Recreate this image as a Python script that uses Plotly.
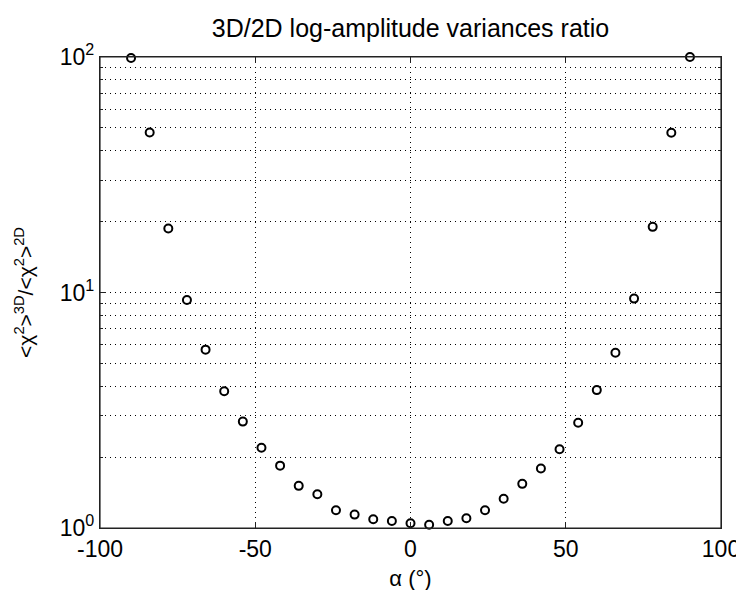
import plotly.graph_objects as go

# data
alpha_deg = [-90, -84, -78, -72, -66, -60, -54, -48, -42, -36, -30, -24, -18, -12, -6, 0,
             6, 12, 18, 24, 30, 36, 42, 48, 54, 60, 66, 72, 78, 84, 90]
ratio = [99.0, 47.8, 18.7, 9.3, 5.72, 3.81, 2.83, 2.19, 1.84, 1.51, 1.39, 1.19, 1.14, 1.09, 1.07, 1.047,
         1.033, 1.07, 1.10, 1.19, 1.33, 1.54, 1.79, 2.16, 2.80, 3.85, 5.55, 9.42, 19.0, 47.7, 100.0]

x_tickvals = [-100, -50, 0, 50, 100]
x_ticktext = ["-100", "-50", "0", "50", "100"]
y_tickvals = [1, 10, 100]
y_ticktext = ["10<sup>0</sup>", "10<sup>1</sup>", "10<sup>2</sup>"]
y_minor = [2, 3, 4, 5, 6, 7, 8, 9, 20, 30, 40, 50, 60, 70, 80, 90]

FONT = "Liberation Sans, Arial, Helvetica, sans-serif"
DOT = "1px,4px"
AX = "#222222"

fig = go.Figure()
fig.add_trace(go.Scatter(
    x=alpha_deg, y=ratio, mode="markers",
    marker=dict(symbol="circle-open", size=8, color="black", line=dict(width=2, color="black")),
    cliponaxis=False, showlegend=False,
))

# axes box (frame of the plotting area)
fig.add_shape(type="rect", xref="paper", yref="paper", x0=0, x1=1, y0=0, y1=1,
              line=dict(color=AX, width=1.2), fillcolor="rgba(0,0,0,0)", layer="above")

fig.update_layout(
    width=744, height=590,
    margin=dict(l=92, r=31, t=49, b=70),
    paper_bgcolor="white", plot_bgcolor="white",
    font=dict(family=FONT, color="black", size=22),
    title=dict(text="3D/2D log-amplitude variances ratio", x=0.5, xref="paper", xanchor="center",
               y=1, yref="container", yanchor="top", pad=dict(t=11),
               font=dict(size=25, family=FONT, color="black")),
    xaxis=dict(
        range=[-100, 100], tickmode="array", tickvals=x_tickvals, ticktext=x_ticktext,
        automargin=False,
        showline=True, linecolor=AX, linewidth=1.2, mirror="ticks",
        ticks="inside", ticklen=6, tickwidth=1, tickcolor=AX,
        showgrid=True, gridcolor="black", gridwidth=1, griddash=DOT,
        zeroline=False, layer="above traces",
        tickfont=dict(size=23, family=FONT),
        title=dict(text="α (°)", font=dict(size=22, family=FONT), standoff=9),
    ),
    yaxis=dict(
        type="log", range=[0, 2], tickmode="array", tickvals=y_tickvals, ticktext=y_ticktext,
        automargin=False,
        showline=True, linecolor=AX, linewidth=1.2, mirror="ticks",
        ticks="inside", ticklen=6, tickwidth=1, tickcolor=AX,
        showgrid=True, gridcolor="black", gridwidth=1, griddash=DOT,
        zeroline=False, layer="above traces",
        tickfont=dict(size=23, family=FONT),
        minor=dict(tickmode="array", tickvals=y_minor, ticks="inside", ticklen=3, tickwidth=1,
                   tickcolor=AX, showgrid=True, gridcolor="black", gridwidth=1, griddash=DOT),
        title=dict(text="<χ<sup>2</sup>><sup>3D</sup>/<χ<sup>2</sup>><sup>2D</sup>",
                   font=dict(size=21, family=FONT), standoff=20),
    ),
)

fig.write_html("out.html")
